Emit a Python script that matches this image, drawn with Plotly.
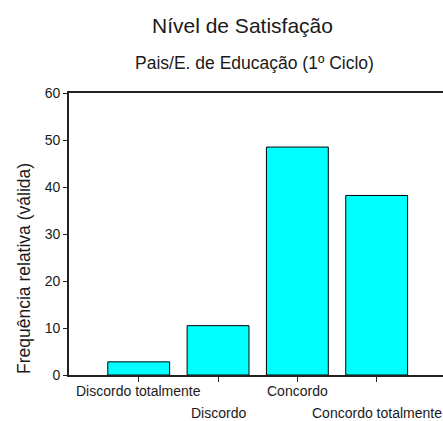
import plotly.graph_objects as go

categories = ["Discordo totalmente", "Discordo", "Concordo", "Concordo totalmente"]
values = [2.8, 10.5, 48.5, 38.2]
y_ticks = [0, 10, 20, 30, 40, 50, 60]
title_text = "Nível de Satisfação"
subtitle_text = "Pais/E. de Educação (1º Ciclo)"
y_title = "Frequência relativa (válida)"

FONT = "Liberation Sans, Arial, sans-serif"
TXT = "#1a1a1a"

fig = go.Figure()
fig.add_trace(go.Bar(
    x=list(range(len(categories))),
    y=values,
    width=0.78,
    marker=dict(color="#00FFFF", line=dict(color="black", width=1)),
))

for i, c in enumerate(categories):
    fig.add_annotation(
        x=i, y=0, xref="x", yref="paper", text=c, showarrow=False,
        xanchor="center", yanchor="middle",
        yshift=-16 if i % 2 == 0 else -38,
        font=dict(family=FONT, size=14, color=TXT),
    )

fig.add_annotation(
    x=0.465, y=1.241, xref="paper", yref="paper", text=title_text,
    showarrow=False, xanchor="center", yanchor="middle",
    font=dict(size=21, family=FONT, color=TXT),
)
fig.add_annotation(
    x=0.4947, y=1.106, xref="paper", yref="paper", text=subtitle_text,
    showarrow=False, xanchor="center", yanchor="middle",
    font=dict(size=17.5, family=FONT, color=TXT),
)
fig.add_annotation(
    x=-0.1203, y=0.376, xref="paper", yref="paper", text=y_title,
    showarrow=False, xanchor="center", yanchor="middle", textangle=-90,
    font=dict(size=17.5, family=FONT, color=TXT),
)

fig.update_layout(
    width=443, height=421,
    margin=dict(l=69, r=0, t=93, b=46, autoexpand=False),
    paper_bgcolor="white", plot_bgcolor="white",
    showlegend=False,
    font=dict(family=FONT, color=TXT),
    xaxis=dict(
        range=[-0.879, 3.836],
        tickmode="array", tickvals=list(range(len(categories))),
        ticktext=["" for _ in categories],
        ticks="outside", ticklen=5, tickcolor="#222", tickwidth=1,
        showline=True, linecolor="#222", linewidth=1.6, mirror=True,
        showgrid=False, zeroline=False, automargin=False,
    ),
    yaxis=dict(
        range=[0, 60],
        tickmode="array", tickvals=y_ticks,
        ticks="outside", ticklen=4, tickcolor="#222", tickwidth=1,
        tickfont=dict(size=14, family=FONT, color=TXT),
        showline=True, linecolor="#222", linewidth=1.6,
        showgrid=False, zeroline=False, automargin=False,
    ),
)

fig.write_html("out.html", config={"displayModeBar": False},
               post_script="document.body.style.margin='0';")
